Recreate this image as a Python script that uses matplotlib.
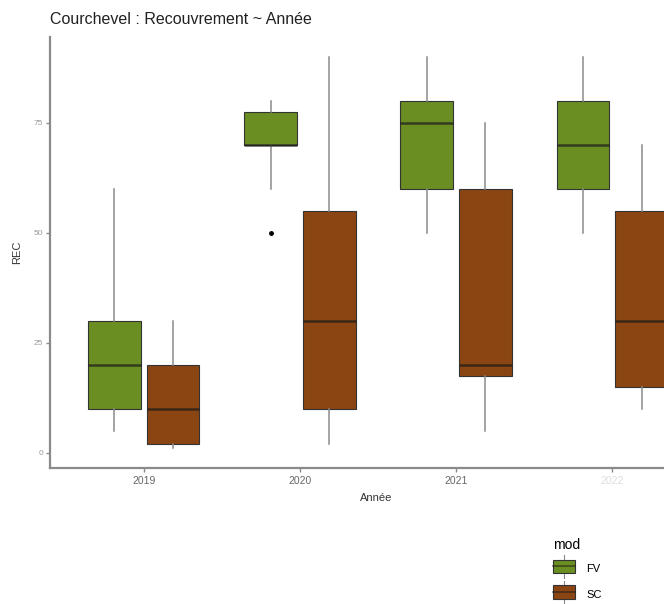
import numpy as np
import matplotlib
matplotlib.use('Agg')
import matplotlib.pyplot as plt
from matplotlib.patches import Patch, Rectangle
from matplotlib.lines import Line2D
from matplotlib.legend_handler import HandlerPatch

plt.rcParams['font.family'] = ['Liberation Sans', 'DejaVu Sans']

# data (box statistics per year and modality)
years = ['2019', '2020', '2021', '2022']
mods = ['FV', 'SC']
fv_low = [5, 60, 50, 50]
fv_q1 = [10, 70, 60, 60]
fv_med = [20, 70, 75, 70]
fv_q3 = [30, 77.5, 80, 80]
fv_high = [60, 80, 90, 90]
fv_out = [[], [50], [], []]
sc_low = [1, 2, 5, 10]
sc_q1 = [2, 10, 17.5, 15]
sc_med = [10, 30, 20, 30]
sc_q3 = [20, 55, 60, 55]
sc_high = [30, 90, 75, 70]
sc_out = [[], [], [], []]

colors = {'FV': '#6b8e23', 'SC': '#8b4513'}


def make_stats(low, q1, med, q3, high, out):
    return [dict(whislo=a, q1=b, med=c, q3=d, whishi=e, fliers=f)
            for a, b, c, d, e, f in zip(low, q1, med, q3, high, out)]


class BoxKey(HandlerPatch):
    # legend key drawn like a small boxplot glyph
    def create_artists(self, legend, orig_handle, xdescent, ydescent,
                       width, height, fontsize, trans):
        x0, y0 = -xdescent, -ydescent
        h = height + ydescent
        whisk = Line2D([x0 + width / 2] * 2, [y0, y0 + h], color='#8a8a8a',
                       lw=0.8, transform=trans)
        box = Rectangle((x0, y0 + h * 0.2), width, h * 0.6,
                        facecolor=orig_handle.get_facecolor(), edgecolor='#333333',
                        lw=0.8, transform=trans)
        med = Line2D([x0, x0 + width], [y0 + h / 2] * 2, color='#1a1a1a',
                     alpha=0.6, lw=1.2, transform=trans)
        return [whisk, box, med]


fig = plt.figure(figsize=(6.64, 6.04), dpi=100)
# the panel runs past the right edge, as in the cropped reference
ax = fig.add_axes([50 / 664, 136 / 604, 656 / 664, 431 / 604])

pos = np.arange(1, len(years) + 1)
width = 0.3375
groups = [
    ('FV', make_stats(fv_low, fv_q1, fv_med, fv_q3, fv_high, fv_out), pos - 0.1875),
    ('SC', make_stats(sc_low, sc_q1, sc_med, sc_q3, sc_high, sc_out), pos + 0.1875),
]
for name, stats, p in groups:
    ax.bxp(stats, positions=p, widths=width, patch_artist=True, showcaps=False,
           boxprops=dict(facecolor=colors[name], edgecolor='#333333', linewidth=0.8),
           medianprops=dict(color='#1a1a1a', alpha=0.7, linewidth=1.8),
           whiskerprops=dict(color='#8a8a8a', linewidth=1.1),
           flierprops=dict(marker='o', markerfacecolor='black', markeredgecolor='black',
                           markersize=2.5))

ax.set_xlim(0.4, 4.6)
ax.set_ylim(-3.45, 94.45)
ax.set_xticks(pos)
ax.set_xticklabels(years)
ax.set_yticks([0, 25, 50, 75])
for s in ['top', 'right']:
    ax.spines[s].set_visible(False)
for s in ['left', 'bottom']:
    ax.spines[s].set_color('#8a8a8a')
    ax.spines[s].set_linewidth(1.6)
ax.tick_params(axis='x', colors='#8a8a8a', labelcolor='#666666', labelsize=7.5,
               length=3, width=1, pad=3)
ax.tick_params(axis='y', colors='#8a8a8a', labelcolor='#999999', labelsize=6,
               length=3, width=1, pad=2)
ax.get_xticklabels()[-1].set_color('#dddddd')

ax.set_xlabel('Année', fontsize=8, color='#333333', labelpad=5)
ax.set_ylabel('REC', fontsize=8, color='#333333', labelpad=8)
ax.xaxis.set_label_coords((376 - 50) / 656, -25 / 431)

fig.text(50 / 664, 1 - 20 / 604, 'Courchevel : Recouvrement ~ Année', fontsize=11.5,
         color='#222222', va='center', ha='left')

handles = [Patch(facecolor=colors[m], edgecolor='#333333', linewidth=0.8) for m in mods]
fig.legend(handles, mods, title='mod', loc='upper left',
           bbox_to_anchor=(543 / 664, 1 - 528 / 604), frameon=False,
           fontsize=8, title_fontsize=10, handlelength=2.0, handleheight=2.0,
           labelspacing=0.75, handletextpad=1.0, alignment='left',
           handler_map={Patch: BoxKey()})

fig.savefig('out.png', dpi=100)
